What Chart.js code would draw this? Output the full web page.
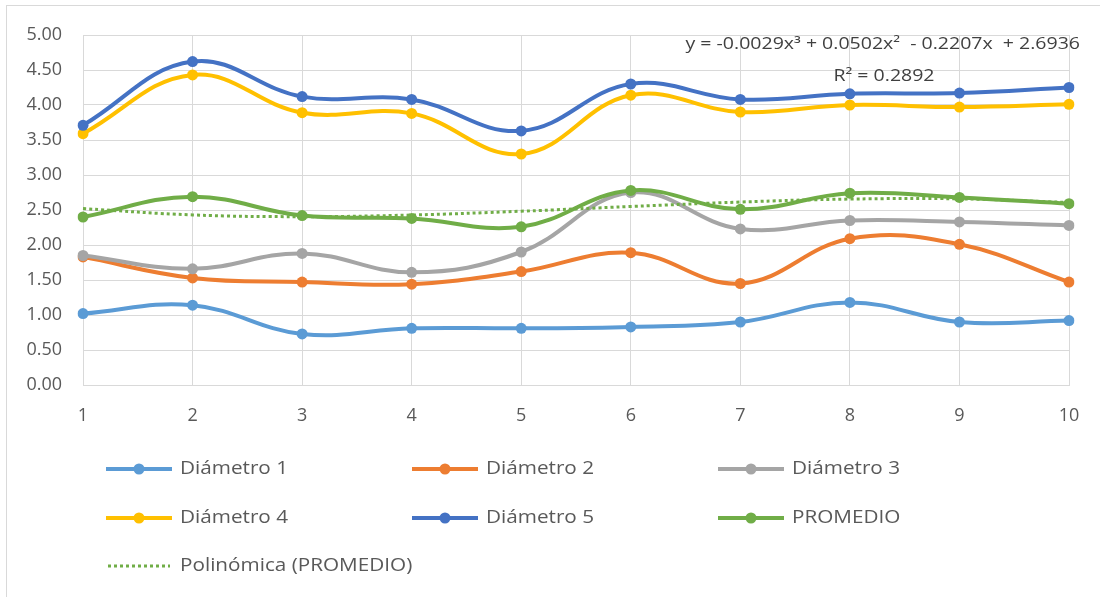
<!DOCTYPE html>
<html>
<head>
<meta charset="utf-8">
<script src="https://cdn.jsdelivr.net/npm/chart.js@4/dist/chart.umd.min.js"></script>
<style>
  html, body { margin: 0; padding: 0; background: #ffffff; }
  #wrap { position: relative; width: 1100px; height: 597px; }
  #frame { position: absolute; left: 6px; top: 5px; width: 1200px; height: 700px; border: 1px solid #d9d9d9; box-sizing: border-box; pointer-events: none; }
</style>
</head>
<body>
<div id="wrap">
  <canvas id="c" width="1100" height="597"></canvas>
  <div id="frame"></div>
</div>
<script>
// Mediciones por muestra (1..10)
const categories = ['1', '2', '3', '4', '5', '6', '7', '8', '9', '10'];
const diametro1 = [1.02, 1.14, 0.73, 0.81, 0.81, 0.83, 0.90, 1.18, 0.90, 0.92];
const diametro2 = [1.83, 1.53, 1.47, 1.44, 1.62, 1.89, 1.45, 2.09, 2.01, 1.47];
const diametro3 = [1.85, 1.66, 1.88, 1.61, 1.90, 2.75, 2.23, 2.35, 2.33, 2.28];
const diametro4 = [3.59, 4.43, 3.89, 3.88, 3.30, 4.14, 3.90, 4.00, 3.97, 4.01];
const diametro5 = [3.71, 4.62, 4.12, 4.08, 3.63, 4.30, 4.08, 4.16, 4.17, 4.25];
const promedio  = [2.40, 2.69, 2.42, 2.38, 2.26, 2.78, 2.51, 2.74, 2.68, 2.59];
// Línea de tendencia polinómica de orden 3 (coeficientes: x^3, x^2, x, término independiente)
const trendCoefs = [-0.0029, 0.0502, -0.2207, 2.6936];
const trendR2 = 0.2892;
const yTicks = [0, 0.5, 1, 1.5, 2, 2.5, 3, 3.5, 4, 4.5, 5];

const trendValues = categories.map(c => {
  const x = Number(c);
  return trendCoefs[0] * x ** 3 + trendCoefs[1] * x ** 2 + trendCoefs[2] * x + trendCoefs[3];
});

const FONT = '"Open Sans", "Liberation Sans", sans-serif';
const TEXT = '#595959';

function series(label, data, color, order) {
  return {
    label, data, order,
    borderColor: color, backgroundColor: color,
    borderWidth: 4, pointRadius: 5.5, pointHoverRadius: 5.5,
    pointBorderWidth: 0, tension: 0.4, fill: false
  };
}

const datasets = [
  series('Diámetro 1', diametro1, '#5B9BD5', 6),
  series('Diámetro 2', diametro2, '#ED7D31', 5),
  series('Diámetro 3', diametro3, '#A5A5A5', 4),
  series('Diámetro 4', diametro4, '#FFC000', 3),
  series('Diámetro 5', diametro5, '#4472C4', 2),
  series('PROMEDIO', promedio, '#70AD47', 1),
  {
    label: 'Polinómica (PROMEDIO)', data: trendValues, order: 0,
    borderColor: '#70AD47', backgroundColor: '#70AD47',
    borderWidth: 3, borderDash: [3, 3], pointRadius: 0, tension: 0.4, fill: false,
    isTrend: true
  }
];

// Texto con ligera expansión horizontal
function wideText(ctx, text, x, y, size, stretch, align, color) {
  ctx.save();
  ctx.font = size + 'px ' + FONT;
  ctx.fillStyle = color;
  ctx.textBaseline = 'middle';
  ctx.textAlign = align;
  ctx.translate(x, y);
  ctx.scale(stretch, 1);
  ctx.fillText(text, 0, 0);
  ctx.restore();
}

// Leyenda en tres columnas bajo el gráfico
const legendGrid = {
  id: 'legendGrid',
  afterDraw(chart) {
    const ctx = chart.ctx;
    const cols = [106, 412, 718];
    const rows = [469, 518, 566];
    chart.data.datasets.forEach((ds, i) => {
      const x = cols[i % 3];
      const y = rows[Math.floor(i / 3)];
      ctx.save();
      ctx.strokeStyle = ds.borderColor;
      if (ds.isTrend) {
        ctx.lineWidth = 3;
        ctx.setLineDash([3, 3]);
        ctx.beginPath(); ctx.moveTo(x + 2, y); ctx.lineTo(x + 64, y); ctx.stroke();
      } else {
        ctx.lineWidth = 4;
        ctx.beginPath(); ctx.moveTo(x, y); ctx.lineTo(x + 66, y); ctx.stroke();
        ctx.fillStyle = ds.borderColor;
        ctx.beginPath(); ctx.arc(x + 33, y, 5.5, 0, Math.PI * 2); ctx.fill();
      }
      ctx.restore();
      wideText(ctx, ds.label, x + 74, y, 18, 1.15, 'left', TEXT);
    });
  }
};

// Ecuación y R² de la línea de tendencia
const trendLabel = {
  id: 'trendLabel',
  afterDatasetsDraw(chart) {
    const ctx = chart.ctx;
    const f = v => Math.abs(v).toFixed(4);
    const s = v => (v < 0 ? '- ' : '+ ');
    const eq = 'y = -' + f(trendCoefs[0]) + 'x³ ' + s(trendCoefs[1]) + f(trendCoefs[1]) + 'x²  ' +
               s(trendCoefs[2]) + f(trendCoefs[2]) + 'x  ' + s(trendCoefs[3]) + f(trendCoefs[3]);
    wideText(ctx, eq, 1080, 44, 16, 1.22, 'right', '#404040');
    wideText(ctx, 'R² = ' + trendR2.toFixed(4), 884, 76, 16, 1.22, 'center', '#404040');
  }
};

new Chart(document.getElementById('c'), {
  type: 'line',
  data: { labels: categories, datasets },
  plugins: [legendGrid, trendLabel],
  options: {
    responsive: false,
    animation: false,
    layout: { padding: { left: 0, right: 31, top: 35, bottom: 152 } },
    plugins: { legend: { display: false }, tooltip: { enabled: false } },
    scales: {
      x: {
        type: 'category',
        offset: false,
        grid: { color: '#d9d9d9', lineWidth: 1, drawTicks: false },
        border: { color: '#d9d9d9' },
        ticks: { color: TEXT, font: { family: FONT, size: 18 }, padding: 20, maxRotation: 0 },
        afterFit(scale) { scale.height = 60; }
      },
      y: {
        min: 0, max: 5,
        afterBuildTicks(scale) { scale.ticks = yTicks.map(v => ({ value: v })); },
        grid: { color: '#d9d9d9', lineWidth: 1, drawTicks: false },
        border: { display: false },
        ticks: { color: TEXT, font: { family: FONT, size: 18 }, padding: 21,
                  callback: v => Number(v).toFixed(2) },
        afterFit(scale) { scale.width = 83; }
      }
    }
  }
});
</script>
</body>
</html>
